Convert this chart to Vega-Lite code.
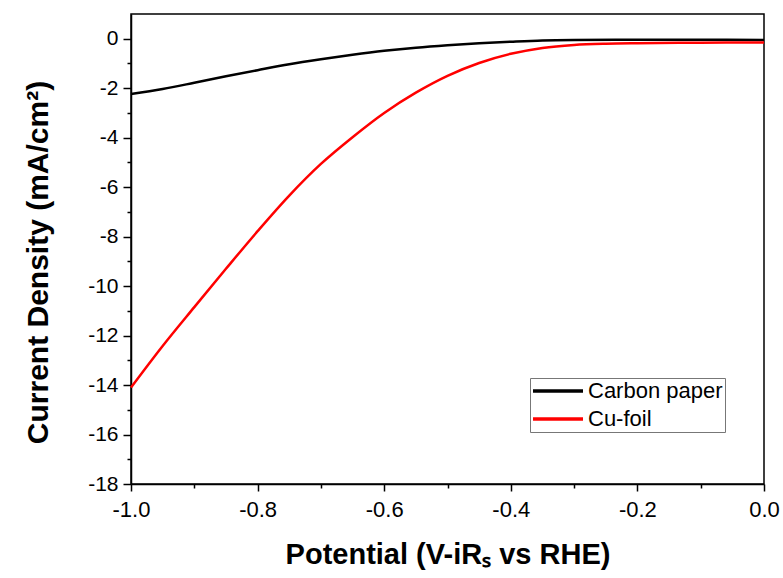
{
  "$schema": "https://vega.github.io/schema/vega-lite/v6.json",
  "autosize": {"type": "none"},
  "padding": {"left": 131, "top": 14, "right": 19, "bottom": 94},
  "width": 633,
  "height": 470,
  "background": "white",
  "config": {
    "view": {"stroke": "black", "strokeWidth": 1.5},
    "font": "Liberation Sans",
    "axis": {
      "domainColor": "black",
      "domainWidth": 1.5,
      "tickColor": "black",
      "tickWidth": 1.5,
      "grid": false,
      "labelColor": "black",
      "labelFont": "Liberation Sans",
      "titleFont": "Liberation Sans",
      "titleColor": "black",
      "titleFontWeight": "bold",
      "labelOverlap": false,
      "labelBound": false,
      "labelFlush": false
    }
  },
  "data": {
    "values": [
      {"series": "Carbon paper", "v": -1.0, "j": -2.23},
      {"series": "Carbon paper", "v": -0.95, "j": -2.03},
      {"series": "Carbon paper", "v": -0.9, "j": -1.78},
      {"series": "Carbon paper", "v": -0.85, "j": -1.52},
      {"series": "Carbon paper", "v": -0.8, "j": -1.27},
      {"series": "Carbon paper", "v": -0.75, "j": -1.03},
      {"series": "Carbon paper", "v": -0.7, "j": -0.83},
      {"series": "Carbon paper", "v": -0.65, "j": -0.65},
      {"series": "Carbon paper", "v": -0.6, "j": -0.49},
      {"series": "Carbon paper", "v": -0.55, "j": -0.36},
      {"series": "Carbon paper", "v": -0.5, "j": -0.26},
      {"series": "Carbon paper", "v": -0.45, "j": -0.18},
      {"series": "Carbon paper", "v": -0.4, "j": -0.12},
      {"series": "Carbon paper", "v": -0.35, "j": -0.07},
      {"series": "Carbon paper", "v": -0.3, "j": -0.05},
      {"series": "Carbon paper", "v": -0.2, "j": -0.04},
      {"series": "Carbon paper", "v": -0.1, "j": -0.04},
      {"series": "Carbon paper", "v": 0.0, "j": -0.05},
      {"series": "Cu-foil", "v": -1.0, "j": -14.1},
      {"series": "Cu-foil", "v": -0.95, "j": -12.42},
      {"series": "Cu-foil", "v": -0.9, "j": -10.85},
      {"series": "Cu-foil", "v": -0.85, "j": -9.3},
      {"series": "Cu-foil", "v": -0.8, "j": -7.78},
      {"series": "Cu-foil", "v": -0.75, "j": -6.34},
      {"series": "Cu-foil", "v": -0.7, "j": -5.06},
      {"series": "Cu-foil", "v": -0.65, "j": -3.98},
      {"series": "Cu-foil", "v": -0.6, "j": -3.0},
      {"series": "Cu-foil", "v": -0.55, "j": -2.18},
      {"series": "Cu-foil", "v": -0.5, "j": -1.5},
      {"series": "Cu-foil", "v": -0.45, "j": -0.98},
      {"series": "Cu-foil", "v": -0.4, "j": -0.61},
      {"series": "Cu-foil", "v": -0.35, "j": -0.37},
      {"series": "Cu-foil", "v": -0.3, "j": -0.25},
      {"series": "Cu-foil", "v": -0.25, "j": -0.2},
      {"series": "Cu-foil", "v": -0.2, "j": -0.18},
      {"series": "Cu-foil", "v": -0.1, "j": -0.16},
      {"series": "Cu-foil", "v": 0.0, "j": -0.15}
    ]
  },
  "mark": {"type": "line", "strokeWidth": 2.5, "interpolate": "catmull-rom"},
  "encoding": {
    "x": {
      "field": "v",
      "type": "quantitative",
      "scale": {"domain": [-1, 0], "nice": false, "zero": false},
      "axis": {
        "title": "Potential (V-iRₛ vs RHE)",
        "titleFontSize": 29,
        "titlePadding": 20,
        "values": [-1.0, -0.9, -0.8, -0.7, -0.6, -0.5, -0.4, -0.3, -0.2, -0.1, 0.0],
        "labelExpr": "abs(round(datum.value*10)) % 2 == 0 ? replace(format(datum.value, '.1f'), '−', '-') : ''",
        "labelFontSize": 22,
        "labelPadding": 8,
        "tickSize": {"condition": {"test": "abs(round(datum.value*10)) % 2 == 1", "value": 4}, "value": 7}
      }
    },
    "y": {
      "field": "j",
      "type": "quantitative",
      "scale": {"domain": [-18, 1], "nice": false, "zero": false},
      "axis": {
        "title": "Current Density (mA/cm²)",
        "titleFontSize": 30,
        "titlePadding": 34,
        "titleY": 248,
        "values": [-18, -17, -16, -15, -14, -13, -12, -11, -10, -9, -8, -7, -6, -5, -4, -3, -2, -1, 0],
        "labelExpr": "abs(round(datum.value)) % 2 == 0 ? replace(format(datum.value, 'd'), '−', '-') : ''",
        "labelFontSize": 21,
        "labelPadding": 5,
        "tickSize": {"condition": {"test": "abs(round(datum.value)) % 2 == 1", "value": 4}, "value": 8}
      }
    },
    "color": {
      "field": "series",
      "type": "nominal",
      "scale": {"domain": ["Carbon paper", "Cu-foil"], "range": ["#000000", "#ff0000"]},
      "legend": {
        "title": null,
        "orient": "none",
        "legendX": 399,
        "legendY": 364,
        "symbolType": "M-2,0H8",
        "symbolSize": 100,
        "symbolStrokeWidth": 3.5,
        "labelFontSize": 22,
        "labelFont": "Liberation Sans",
        "labelColor": "black",
        "labelOffset": 34,
        "strokeColor": "#777777",
        "padding": 2,
        "rowPadding": 6
      }
    }
  }
}
